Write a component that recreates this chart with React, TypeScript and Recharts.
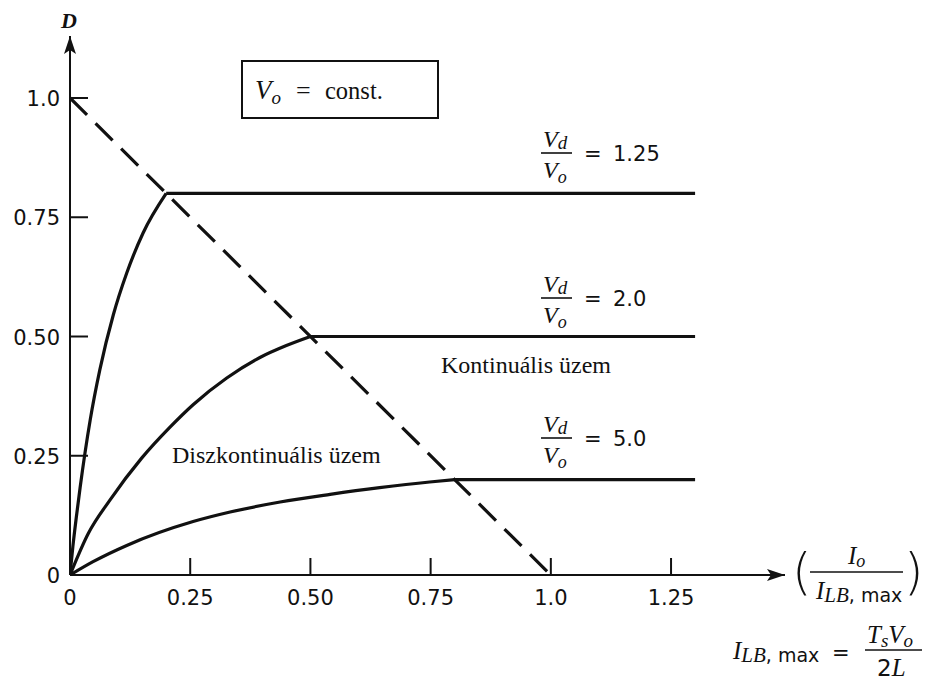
import { LineChart, Line, XAxis, YAxis, Customized } from "recharts";

// axis ticks
const xTicks = [0, 0.25, 0.5, 0.75, 1.0, 1.25];
const xTickLabels = ["0", "0.25", "0.50", "0.75", "1.0", "1.25"];
const yTicks = [0, 0.25, 0.5, 0.75, 1.0];
const yTickLabels = ["0", "0.25", "0.50", "0.75", "1.0"];

// Vd/Vo ratios and the duty ratio each one settles at in continuous mode
const ratioLabels = ["1.25", "2.0", "5.0"];
const dutyLevels = [0.8, 0.5, 0.2];
const boundaryLoads = [0.2, 0.5, 0.8];
const loadEnd = 1.3;

// discontinuous-mode curves, Io / ILB,max vs D
const load125 = [0, 0.006, 0.013, 0.021, 0.042, 0.062, 0.09, 0.118, 0.152, 0.2];
const duty125 = [0, 0.06, 0.12, 0.183, 0.325, 0.43, 0.545, 0.633, 0.717, 0.8];

const load20 = [0, 0.038, 0.083, 0.149, 0.208, 0.256, 0.326, 0.395, 0.45, 0.5];
const duty20 = [0, 0.087, 0.157, 0.245, 0.31, 0.357, 0.413, 0.456, 0.481, 0.5];

const load50 = [0, 0.048, 0.118, 0.256, 0.333, 0.437, 0.541, 0.644, 0.748, 0.8];
const duty50 = [0, 0.028, 0.062, 0.112, 0.132, 0.153, 0.169, 0.183, 0.195, 0.2];

// boundary between the two modes
const boundaryLoad = [0, 1];
const boundaryDuty = [1, 0];

const pts = (xs: number[], ds: number[]) => xs.map((x, i) => ({ x, d: ds[i] }));

const curves = [pts(load125, duty125), pts(load20, duty20), pts(load50, duty50)];
const flats = dutyLevels.map((d, i) => pts([boundaryLoads[i], loadEnd], [d, d]));

const INK = "#111";
const SANS = "'DejaVu Sans', sans-serif";
const SERIF = "'Liberation Serif', 'Times New Roman', serif";

const XTick = (props: any) => {
  const { x, y, index } = props;
  const axisY = y - 10;
  return (
    <g>
      {index > 0 && <line x1={x} x2={x} y1={axisY} y2={axisY - 17} stroke={INK} strokeWidth={2} />}
      <text x={x} y={axisY + 30} textAnchor="middle" fontFamily={SANS} fontSize={21} fill={INK}>
        {xTickLabels[index]}
      </text>
    </g>
  );
};

const YTick = (props: any) => {
  const { x, y, index } = props;
  const axisX = x + 10;
  return (
    <g>
      {index > 0 && <line x1={axisX} x2={axisX + 18} y1={y} y2={y} stroke={INK} strokeWidth={2} />}
      <text x={x} y={y + 8} textAnchor="end" fontFamily={SANS} fontSize={21} fill={INK}>
        {yTickLabels[index]}
      </text>
    </g>
  );
};

const RatioLabel = ({ by, value }: { by: number; value: string }) => (
  <g fill={INK}>
    <text x={543} y={by - 6} fontFamily={SERIF} fontStyle="italic" fontSize={24}>
      V<tspan fontSize={19} dy={2}>d</tspan>
    </text>
    <line x1={541} x2={572} y1={by} y2={by} stroke={INK} strokeWidth={1.6} />
    <text x={543} y={by + 25} fontFamily={SERIF} fontStyle="italic" fontSize={24}>
      V<tspan fontSize={18} dy={5}>o</tspan>
    </text>
    <text x={584} y={by + 8} fontFamily={SANS} fontSize={21}>=</text>
    <text x={613} y={by + 8} fontFamily={SANS} fontSize={21}>{value}</text>
  </g>
);

const labelBars = [153, 298, 438];

// I with an LB subscript and ", max"
const ILBmax = ({ x, y }: { x: number; y: number }) => (
  <text x={x} y={y} fontFamily={SERIF} fontStyle="italic" fontSize={25}>
    I<tspan fontSize={21} dy={3}>LB</tspan>
    <tspan fontStyle="normal" fontFamily={SANS} fontSize={19}>, max</tspan>
  </text>
);

const Annotations = () => (
  <g fill={INK}>
    {/* axis arrowheads */}
    <path d="M64,54 L70,36 L76,54 L70,50 Z" fill={INK} />
    <path d="M767,569 L785,575 L767,581 L771,575 Z" fill={INK} />

    <text x={61} y={28} fontFamily={SERIF} fontStyle="italic" fontWeight="bold" fontSize={22}>D</text>

    <rect x={242} y={61} width={196} height={57} fill="none" stroke={INK} strokeWidth={2} />
    <text x={255} y={99} fontFamily={SERIF} fontStyle="italic" fontSize={27}>
      V<tspan fontSize={19} dy={5}>o</tspan>
    </text>
    <text x={296} y={99} fontFamily={SERIF} fontSize={26}>=</text>
    <text x={325} y={99} fontFamily={SERIF} fontSize={24.5}>const.</text>

    {ratioLabels.map((r, i) => (
      <RatioLabel key={r} by={labelBars[i]} value={r} />
    ))}

    <text x={441} y={373} fontFamily={SERIF} fontSize={24}>Kontinuális üzem</text>
    <text x={172} y={463} fontFamily={SERIF} fontSize={24}>Diszkontinuális üzem</text>

    {/* x axis title */}
    <text x={792} y={589} fontFamily={SANS} fontSize={50} fontWeight={300}>(</text>
    <text x={904} y={589} fontFamily={SANS} fontSize={50} fontWeight={300}>)</text>
    <text x={848} y={564} fontFamily={SERIF} fontStyle="italic" fontSize={25}>
      I<tspan fontSize={18} dy={3}>o</tspan>
    </text>
    <line x1={810} x2={903} y1={572} y2={572} stroke={INK} strokeWidth={1.6} />
    <ILBmax x={816} y={599} />

    {/* ILB,max definition */}
    <ILBmax x={733} y={659} />
    <text x={832} y={660} fontFamily={SANS} fontSize={21}>=</text>
    <text x={867} y={643} fontFamily={SERIF} fontStyle="italic" fontSize={25}>
      T<tspan fontSize={19} dy={4}>s</tspan>
      <tspan dy={-4}>V</tspan>
      <tspan fontSize={19} dy={4}>o</tspan>
    </text>
    <line x1={865} x2={922} y1={650} y2={650} stroke={INK} strokeWidth={1.6} />
    <text x={877} y={676} fontFamily={SANS} fontSize={23}>
      2<tspan fontFamily={SERIF} fontStyle="italic" fontSize={25}>L</tspan>
    </text>
  </g>
);

export default function App() {
  return (
    <div style={{ width: 925, height: 682, background: "#fff" }}>
      <style>{`body{margin:0}`}</style>
      <LineChart width={925} height={682} margin={{ top: 36, right: 140, bottom: 67, left: 0 }}>
        <XAxis
          type="number"
          dataKey="x"
          domain={[0, 1.487]}
          ticks={xTicks}
          allowDataOverflow
          height={40}
          tickSize={10}
          tickMargin={0}
          tickLine={false}
          tick={<XTick />}
          axisLine={{ stroke: INK, strokeWidth: 2 }}
        />
        <YAxis
          type="number"
          dataKey="d"
          domain={[0, 1.13]}
          ticks={yTicks}
          allowDataOverflow
          width={70}
          tickSize={10}
          tickMargin={0}
          tickLine={false}
          tick={<YTick />}
          axisLine={{ stroke: INK, strokeWidth: 2 }}
        />
        <Line
          data={pts(boundaryLoad, boundaryDuty)}
          dataKey="d"
          type="linear"
          stroke={INK}
          strokeWidth={3.2}
          strokeDasharray="24 12"
          dot={false}
          isAnimationActive={false}
        />
        {curves.map((c, i) => (
          <Line
            key={`curve-${i}`}
            data={c}
            dataKey="d"
            type="monotoneX"
            stroke={INK}
            strokeWidth={3.2}
            dot={false}
            isAnimationActive={false}
          />
        ))}
        {flats.map((f, i) => (
          <Line
            key={`flat-${i}`}
            data={f}
            dataKey="d"
            type="linear"
            stroke={INK}
            strokeWidth={3.2}
            dot={false}
            isAnimationActive={false}
          />
        ))}
        <Customized component={Annotations} />
      </LineChart>
    </div>
  );
}
